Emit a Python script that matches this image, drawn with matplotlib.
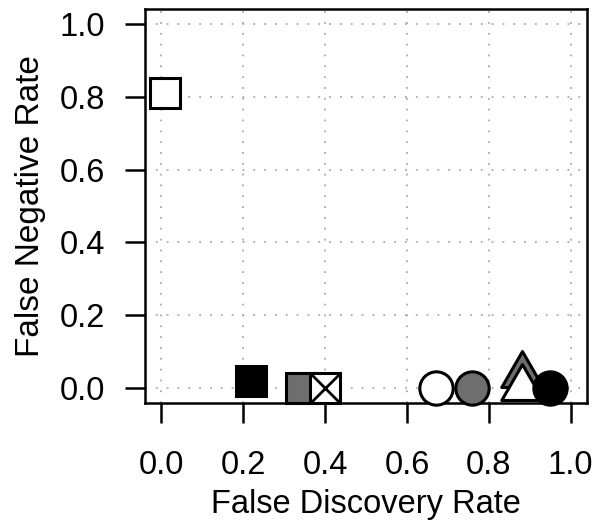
import matplotlib
matplotlib.use("Agg")
import matplotlib.pyplot as plt
from matplotlib.path import Path

plt.rcParams['font.family'] = ['Liberation Sans', 'DejaVu Sans']

# data
sq_x = [0.01, 0.22, 0.34, 0.40]
sq_y = [0.81, 0.02, 0.0, 0.0]
sq_fill = ['white', 'black', '#6e6e6e', 'white']
sq_cross = [False, False, False, True]

circ_x = [0.67, 0.76, 0.95]
circ_y = [0.0, 0.0, 0.0]
circ_fill = ['white', '#6e6e6e', 'black']

tri_x = [0.88, 0.88]
tri_y = [0.036, 0.0]
tri_fill = ['#6e6e6e', 'white']

ticks = [0.0, 0.2, 0.4, 0.6, 0.8, 1.0]
tick_labels = ['0.0', '0.2', '0.4', '0.6', '0.8', '1.0']

# R-style triangle (centroid at the data point)
tri_marker = Path([(0, 1), (-0.866, -0.5), (0.866, -0.5), (0, 1)], closed=True)

fig = plt.figure(figsize=(5.93, 5.21), dpi=100)
ax = fig.add_axes([145 / 593, 1 - 403 / 521, (587 - 145) / 593, (403 - 9) / 521])
ax.set_xlim(-0.04, 1.04)
ax.set_ylim(-0.04, 1.04)

for t in ticks:
    ax.axvline(t, color='#aaaaaa', lw=1.3, ls=(0, (1, 5)), zorder=0)
    ax.axhline(t, color='#aaaaaa', lw=1.3, ls=(0, (1, 5)), zorder=0)

ms_sq = 21
for x, y, f, c in zip(sq_x, sq_y, sq_fill, sq_cross):
    ax.plot([x], [y], marker='s', ms=ms_sq, mfc=f, mec='black', mew=2.2, ls='none', zorder=3, clip_on=False)
    if c:
        ax.plot([x], [y], marker='x', ms=ms_sq * 0.95, mec='black', mew=2.0, ls='none', zorder=3, clip_on=False)

for x, y, f in zip(tri_x, tri_y, tri_fill):
    ax.plot([x], [y], marker=tri_marker, ms=34.5, mfc=f, mec='black', mew=2.2, ls='none', zorder=3, clip_on=False)

for x, y, f in zip(circ_x, circ_y, circ_fill):
    ax.plot([x], [y], marker='o', ms=24, mfc=f, mec='black', mew=2.2, ls='none', zorder=4, clip_on=False)

ax.set_xticks(ticks)
ax.set_xticklabels(tick_labels)
ax.set_yticks(ticks)
ax.set_yticklabels(tick_labels)
ax.tick_params(direction='out', length=14.5, width=1.8, labelsize=23.5)
ax.tick_params(axis='x', pad=19)
ax.tick_params(axis='y', pad=14)
for s in ax.spines.values():
    s.set_linewidth(1.8)
ax.set_xlabel('False Discovery Rate', fontsize=23.5, labelpad=6)
ax.set_ylabel('False Negative Rate', fontsize=24, labelpad=10)

fig.savefig('out.png', dpi=100)
